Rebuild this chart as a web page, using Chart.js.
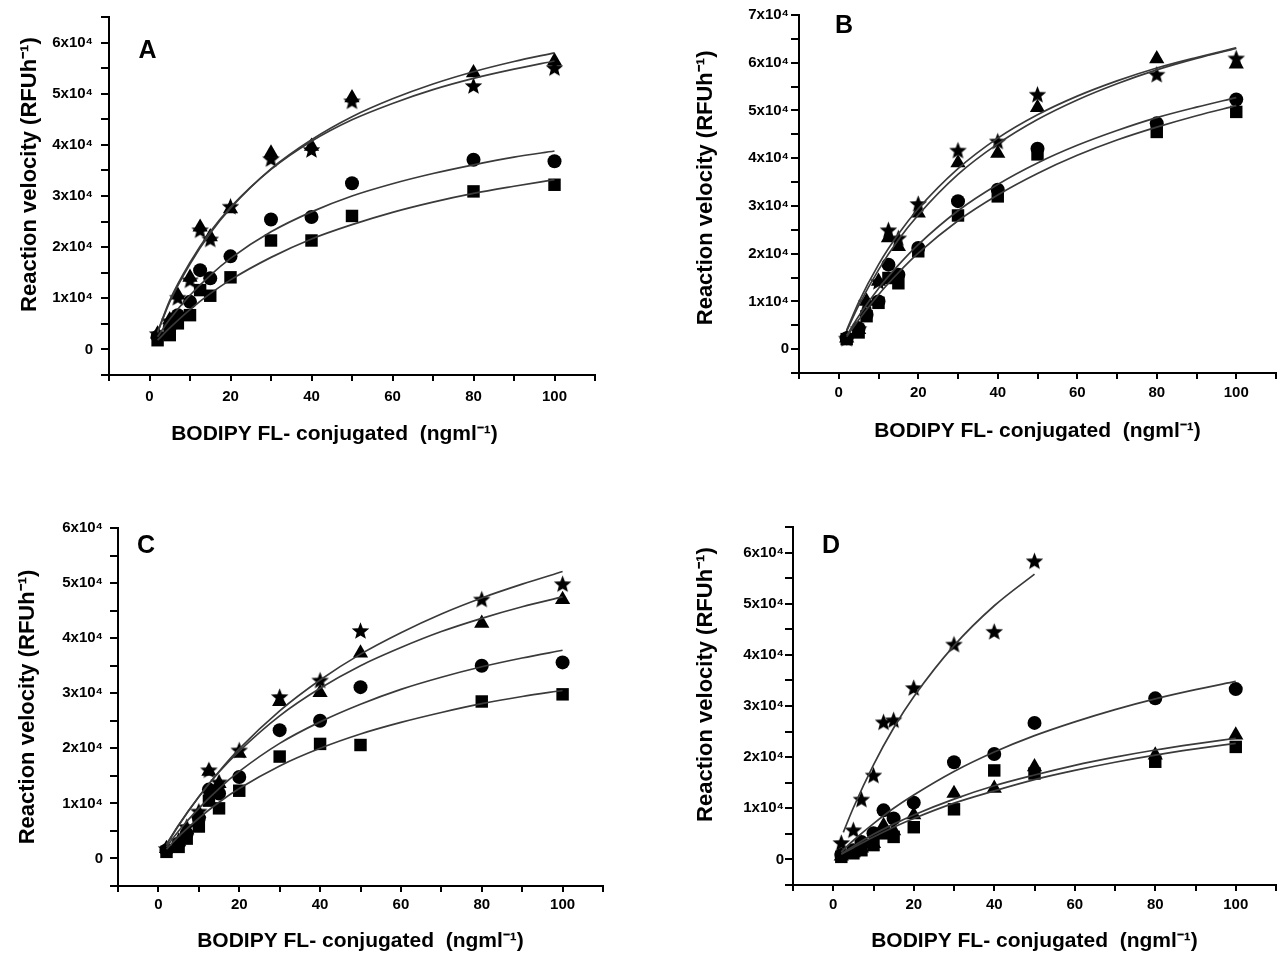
<!DOCTYPE html>
<html><head><meta charset="utf-8">
<script src="https://cdn.jsdelivr.net/npm/chart.js@4.4.1/dist/chart.umd.min.js"></script>
<style>
html,body{margin:0;padding:0;background:#fff;overflow:hidden;width:1285px;height:954px;}
.panel{position:absolute;}
canvas{display:block;}
</style></head><body>
<div class="panel" style="left:0px;top:0px"><canvas id="cA" width="620" height="450" style="width:620px;height:450px"></canvas></div>
<div class="panel" style="left:690px;top:0px"><canvas id="cB" width="595" height="450" style="width:595px;height:450px"></canvas></div>
<div class="panel" style="left:0px;top:460px"><canvas id="cC" width="620" height="494" style="width:620px;height:494px"></canvas></div>
<div class="panel" style="left:690px;top:460px"><canvas id="cD" width="595" height="494" style="width:595px;height:494px"></canvas></div>
<script>
// ---------- data ----------
const concentrations = [2, 5, 7, 10, 12.5, 15, 20, 30, 40, 50, 80, 100];
const concentrationsDStar = [2, 5, 7, 10, 12.5, 15, 20, 30, 40, 50];
const fitConc = [2, 5, 10, 15, 20, 30, 40, 50, 60, 70, 80, 90, 100];
const fitConcDStar = [2.5, 5, 10, 15, 20, 30, 40, 50];

const xTickValues = [0, 20, 40, 60, 80, 100];
const yTickValues = [0, 10000, 20000, 30000, 40000, 50000, 60000, 70000];
const yTickText = ['0', '1x10\u2074', '2x10\u2074', '3x10\u2074', '4x10\u2074', '5x10\u2074', '6x10\u2074', '7x10\u2074'];

const yTitleText = 'Reaction velocity (RFUh\u207B\u00B9)';
const xTitleText = 'BODIPY FL- conjugated  (ngml\u207B\u00B9)';
const panelLetters = ['A', 'B', 'C', 'D'];

// Panel A
const A_triangle = [3000, 5800, 10600, 14100, 23900, 22000, 27500, 38400, 39700, 49200, 54100, 56400];
const A_star     = [3100, 5600, 10200, 13600, 23400, 21600, 28000, 37300, 39100, 48600, 51600, 55100];
const A_circle   = [2500, 4400, 6700, 9300, 15500, 13900, 18200, 25400, 25900, 32500, 37100, 36800];
const A_square   = [1800, 2800, 5100, 6700, 11600, 10500, 14100, 21300, 21300, 26100, 30900, 32200];
const A_fitTriangle = [3300, 9300, 16700, 22700, 27600, 35300, 41000, 45500, 49000, 51900, 54300, 56300, 58000];
const A_fitStar     = [3400, 9600, 17000, 23000, 27800, 35200, 40700, 44900, 48100, 50800, 53000, 54800, 56400];
const A_fitCircle   = [2500, 5900, 10600, 14500, 17800, 23000, 26900, 30000, 32400, 34400, 36100, 37600, 38800];
const A_fitSquare   = [1800, 4200, 7800, 10900, 13600, 18000, 21600, 24400, 26800, 28800, 30500, 31900, 33200];

// Panel B
const B_star     = [2300, 4300, 9800, 14200, 25000, 23300, 30500, 41700, 43600, 53400, 57600, 61000];
const B_triangle = [2300, 4100, 10000, 14200, 23300, 21500, 28500, 39000, 41000, 50600, 60800, 59700];
const B_circle   = [2300, 4400, 7200, 10000, 17700, 15600, 21200, 31000, 33400, 42000, 47300, 52300];
const B_square   = [2100, 3500, 6900, 9700, 14900, 13800, 20500, 28000, 32000, 40800, 45500, 49700];
const B_fitStar     = [4000, 9800, 17700, 24100, 29400, 37800, 44200, 49100, 53000, 56200, 58900, 61100, 63100];
const B_fitTriangle = [3800, 9100, 16600, 22900, 28100, 36600, 43000, 48100, 52200, 55600, 58500, 60900, 63000];
const B_fitCircle   = [2900, 6900, 12700, 17600, 21900, 29000, 34500, 39000, 42700, 45800, 48500, 50700, 52700];
const B_fitSquare   = [2600, 6100, 11400, 16000, 20100, 26900, 32300, 36800, 40600, 43800, 46500, 48900, 51000];

// Panel C
const C_star     = [1800, 3300, 5800, 8600, 16100, 13900, 19700, 29400, 32400, 41400, 47100, 49900];
const C_triangle = [1800, 3000, 5200, 8200, 15800, 13600, 19100, 28500, 30100, 37300, 42700, 47000];
const C_circle   = [1500, 2700, 4500, 7300, 12500, 11800, 14800, 23300, 25000, 31100, 35000, 35600];
const C_square   = [1200, 2100, 3600, 5800, 10500, 9100, 12300, 18500, 20800, 20600, 28500, 29800];
const C_fitStar     = [2500, 6000, 11200, 15800, 19900, 26800, 32400, 37100, 41000, 44400, 47300, 49800, 52100];
const C_fitTriangle = [2600, 6100, 11200, 15700, 19500, 25900, 30900, 35000, 38300, 41200, 43600, 45700, 47500];
const C_fitCircle   = [2100, 5000, 9100, 12700, 15800, 20900, 24800, 28000, 30700, 32900, 34800, 36400, 37800];
const C_fitSquare   = [1700, 4000, 7300, 10200, 12700, 16800, 20000, 22600, 24700, 26500, 28100, 29400, 30500];

// Panel D
const D_star     = [3300, 5800, 11800, 16500, 26900, 27300, 33600, 42100, 44600, 58400];
const D_circle   = [850, 1800, 3400, 5100, 9600, 8000, 11100, 19000, 20600, 26700, 31500, 33300];
const D_triangle = [650, 1300, 2200, 3100, 6600, 5600, 8700, 12900, 13900, 18100, 20400, 24300];
const D_square   = [500, 1200, 1800, 2800, 5100, 4400, 6300, 9800, 17400, 16800, 19100, 22000];
const D_fitStar     = [5300, 10100, 18500, 25700, 31800, 41800, 49600, 55800];
const D_fitCircle   = [1500, 3700, 7000, 10000, 12600, 17200, 21000, 24200, 26900, 29300, 31400, 33200, 34800];
const D_fitTriangle = [1100, 2600, 4900, 6900, 8700, 11800, 14400, 16500, 18400, 20000, 21400, 22600, 23700];
const D_fitSquare   = [1000, 2300, 4400, 6300, 8000, 11000, 13400, 15600, 17400, 19000, 20400, 21600, 22700];

// ---------- rendering ----------
const FONT = "'Liberation Sans', Arial, Helvetica, sans-serif";

const STAR = (function () {
  const s = 19, c = document.createElement('canvas');
  c.width = s; c.height = s;
  const g = c.getContext('2d');
  const R = s / 2 - 0.3, r = R * 0.43, cx = s / 2, cy = s / 2 + R * 0.1;
  g.beginPath();
  for (let i = 0; i < 10; i++) {
    const a = -Math.PI / 2 + i * Math.PI / 5, rr = (i % 2) ? r : R;
    g.lineTo(cx + rr * Math.cos(a), cy + rr * Math.sin(a));
  }
  g.closePath(); g.fillStyle = '#000'; g.fill();
  return c;
})();

function pts(xs, ys) { return ys.map((v, i) => ({ x: xs[i], y: v })); }

const markerSpec = {
  triangle: { pointStyle: 'triangle', pointRadius: 8.8 },
  circle: { pointStyle: 'circle', pointRadius: 7 },
  rect: { pointStyle: 'rect', pointRadius: 8.8 },
  star: { pointStyle: STAR, pointRadius: 9 }
};

const letterPlugin = {
  id: 'panelLetter',
  afterDraw(chart, args, opts) {
    const { ctx, chartArea } = chart;
    ctx.save();
    ctx.font = 'bold 25px ' + FONT;
    ctx.fillStyle = '#000';
    ctx.textBaseline = 'alphabetic';
    ctx.textAlign = 'left';
    ctx.fillText(opts.text, chartArea.left + opts.dx, chartArea.top + opts.dy);
    ctx.restore();
  }
};

function makePanel(id, p) {
  const datasets = [];
  p.fits.forEach(([xs, ys]) => datasets.push({
    data: pts(xs, ys), showLine: true, pointRadius: 0, borderColor: '#3a3a3a',
    borderWidth: 1.7, cubicInterpolationMode: 'monotone', fill: false, order: 0
  }));
  p.marks.forEach(([xs, ys, kind]) => datasets.push(Object.assign({
    data: pts(xs, ys), showLine: false, backgroundColor: '#000', borderColor: '#000',
    borderWidth: 0, order: 1
  }, markerSpec[kind])));

  new Chart(document.getElementById(id), {
    type: 'scatter',
    data: { datasets },
    options: {
      responsive: false, animation: false, devicePixelRatio: 1,
      layout: { padding: { left: 0, top: p.padTop, right: p.padRight, bottom: 0 } },
      plugins: { legend: { display: false }, tooltip: { enabled: false },
                 panelLetter: { text: p.letter, dx: p.letterDx, dy: p.letterDy } },
      scales: {
        x: {
          type: 'linear', min: -10, max: 110,
          afterFit: s => { s.height = p.hx; },
          ticks: {
            stepSize: 10, autoSkip: false, maxRotation: 0, padding: p.xTickPad, color: '#000',
            font: { family: FONT, weight: 'bold', size: 15 },
            callback: v => xTickValues.includes(v) ? String(v) : ''
          },
          grid: { drawOnChartArea: false, drawTicks: true, tickLength: 6, color: '#000', lineWidth: 2 },
          border: { display: true, color: '#000', width: 2 },
          title: { display: true, text: p.xTitle, color: '#000',
                   font: { family: FONT, weight: 'bold', size: 21, lineHeight: 1.2 },
                   padding: { top: 0, bottom: p.xTitlePad } }
        },
        y: {
          type: 'linear', min: -5000, max: p.yMax,
          afterFit: s => { s.width = p.wy; },
          ticks: {
            stepSize: 5000, autoSkip: false, padding: p.yTickPad, color: '#000',
            font: { family: FONT, weight: 'bold', size: 15 },
            callback: v => { const i = yTickValues.indexOf(v); return i >= 0 ? yTickText[i] : ''; }
          },
          grid: { drawOnChartArea: false, drawTicks: true, tickLength: 8, color: '#000', lineWidth: 2 },
          border: { display: true, color: '#000', width: 2 },
          title: { display: true, text: p.yTitle, color: '#000',
                   font: { family: FONT, weight: 'bold', size: 22, lineHeight: 1.2 },
                   padding: { top: p.yTitlePad, bottom: 0 } }
        }
      }
    },
    plugins: [letterPlugin]
  });
}

const sp = n => ' '.repeat(n);

makePanel('cA', {
  marks: [[concentrations, A_triangle, 'triangle'], [concentrations, A_star, 'star'],
          [concentrations, A_circle, 'circle'], [concentrations, A_square, 'rect']],
  fits: [[fitConc, A_fitTriangle], [fitConc, A_fitStar], [fitConc, A_fitCircle], [fitConc, A_fitSquare]],
  yMax: 65000, wy: 109, hx: 75, padTop: 17, padRight: 25,
  xTickPad: 6.5, yTickPad: 8, xTitlePad: 3, yTitlePad: 17,
  xTitle: xTitleText + sp(6), yTitle: sp(7) + yTitleText,
  letter: panelLetters[0], letterDx: 29.5, letterDy: 41
});
makePanel('cB', {
  marks: [[concentrations, B_star, 'star'], [concentrations, B_triangle, 'triangle'],
          [concentrations, B_circle, 'circle'], [concentrations, B_square, 'rect']],
  fits: [[fitConc, B_fitStar], [fitConc, B_fitTriangle], [fitConc, B_fitCircle], [fitConc, B_fitSquare]],
  yMax: 70000, wy: 109, hx: 77, padTop: 15, padRight: 1,
  xTickPad: 4.5, yTickPad: 2, xTitlePad: 6, yTitlePad: 3,
  xTitle: xTitleText, yTitle: sp(2) + yTitleText,
  letter: panelLetters[1], letterDx: 36, letterDy: 18
});
makePanel('cC', {
  marks: [[concentrations, C_star, 'star'], [concentrations, C_triangle, 'triangle'],
          [concentrations, C_circle, 'circle'], [concentrations, C_square, 'rect']],
  fits: [[fitConc, C_fitStar], [fitConc, C_fitTriangle], [fitConc, C_fitCircle], [fitConc, C_fitSquare]],
  yMax: 60000, wy: 118, hx: 68, padTop: 68, padRight: 17,
  xTickPad: 4, yTickPad: 7, xTitlePad: 0, yTitlePad: 15,
  xTitle: xTitleText, yTitle: yTitleText,
  letter: panelLetters[2], letterDx: 19, letterDy: 25
});
makePanel('cD', {
  marks: [[concentrationsDStar, D_star, 'star'], [concentrations, D_circle, 'circle'],
          [concentrations, D_triangle, 'triangle'], [concentrations, D_square, 'rect']],
  fits: [[fitConcDStar, D_fitStar], [fitConc, D_fitCircle], [fitConc, D_fitTriangle], [fitConc, D_fitSquare]],
  yMax: 65000, wy: 103, hx: 69, padTop: 67, padRight: 5,
  xTickPad: 4.5, yTickPad: 1, xTitlePad: 0, yTitlePad: 3,
  xTitle: xTitleText, yTitle: sp(7) + yTitleText,
  letter: panelLetters[3], letterDx: 29, letterDy: 26
});
</script>
</body></html>
